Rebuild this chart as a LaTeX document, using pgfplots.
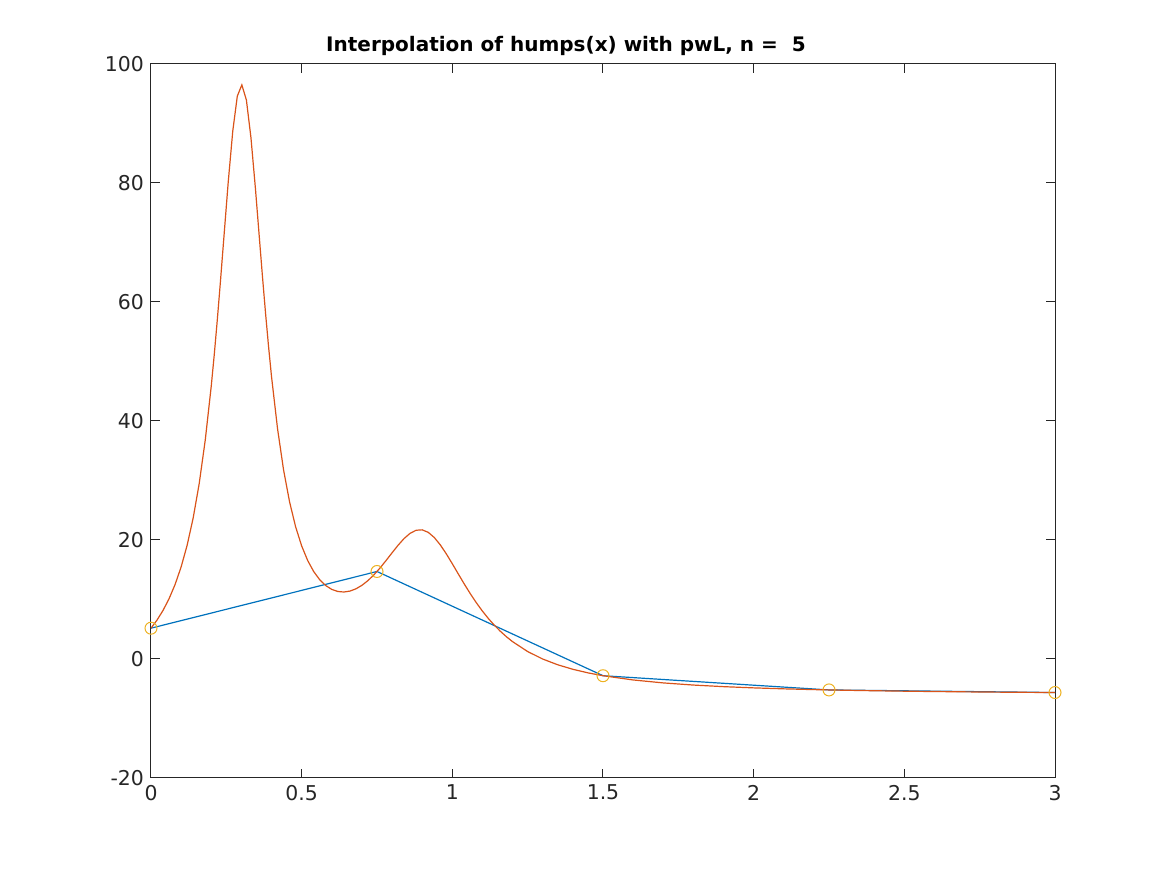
\documentclass[border=0pt]{standalone}
\usepackage{pgfplots}
\pgfplotsset{compat=1.18}
\usepackage{fontspec}
\setmainfont{DejaVu Sans}
\definecolor{mblue}{rgb}{0,0.447,0.741}
\definecolor{morange}{rgb}{0.850,0.325,0.098}
\definecolor{myellow}{rgb}{0.929,0.694,0.125}
\definecolor{axgray}{rgb}{0.15,0.15,0.15}
\begin{document}
\begin{tikzpicture}
\begin{axis}[
    scale only axis,
    width=452pt, height=357pt,
    xmin=0, xmax=3, ymin=-20, ymax=100,
    axis line style={axgray, line width=0.5pt},
    every tick/.style={axgray, line width=0.5pt},
    major tick length=4.5pt,
    tick align=inside,
    xtick={0,0.5,1,1.5,2,2.5,3},
    xticklabels={0,0.5,1,1.5,2,2.5,3},
    ytick={-20,0,20,40,60,80,100},
    yticklabels={-20,0,20,40,60,80,100},
    tick label style={font=\fontsize{10.2}{12}\selectfont, text=axgray},
    title={\textbf{Interpolation of humps(x) with pwL, n =\ \ 5}},
    title style={font=\fontsize{10}{12}\selectfont, text=black, yshift=-5.5pt, xshift=-18.5pt},
]
\coordinate (sw) at (rel axis cs:0,0);
\coordinate (ne) at (rel axis cs:1,1);
% piecewise linear interpolant
\addplot[mblue, line width=0.6pt] coordinates {
(0,5.176) (0.75,14.706) (1.5,-2.811) (2.25,-5.201) (3,-5.638)};
% humps(x)
\addplot[morange, line width=0.6pt] coordinates {
(0,5.176) (0.02,6.540) (0.04,8.169) (0.06,10.134) (0.08,12.527)
(0.10,15.471) (0.12,19.127) (0.14,23.709) (0.16,29.486) (0.18,36.775)
(0.20,45.887) (0.21,51.187) (0.22,56.966) (0.23,63.160) (0.24,69.632)
(0.2563,80.16) (0.2714,88.74) (0.2864,94.58) (0.3015,96.49) (0.3166,93.94)
(0.3317,87.62) (0.3467,78.99) (0.36,70.545) (0.37,64.230) (0.38,58.198)
(0.39,52.581) (0.40,47.448) (0.42,38.682) (0.44,31.758) (0.46,26.371)
(0.48,22.206) (0.50,19.000) (0.52,16.546) (0.54,14.689) (0.56,13.314)
(0.58,12.335) (0.60,11.692) (0.62,11.343) (0.64,11.256) (0.66,11.409)
(0.68,11.789) (0.70,12.382) (0.72,13.177) (0.74,14.156) (0.76,15.291)
(0.78,16.542) (0.80,17.846) (0.82,19.118) (0.84,20.251) (0.86,21.129)
(0.88,21.639) (0.90,21.703) (0.92,21.288) (0.94,20.422) (0.96,19.180)
(0.98,17.669) (1.00,16.000) (1.02,14.275) (1.04,12.572) (1.06,10.946)
(1.08,9.429) (1.10,8.038) (1.12,6.778) (1.14,5.643) (1.16,4.628)
(1.18,3.721) (1.20,2.912) (1.25,1.250) (1.30,-0.010) (1.35,-0.977)
(1.40,-1.732) (1.45,-2.330) (1.50,-2.811) (1.60,-3.525) (1.70,-4.022)
(1.80,-4.381) (1.90,-4.649) (2.00,-4.855) (2.10,-5.017) (2.20,-5.146)
(2.30,-5.251) (2.40,-5.337) (2.50,-5.409) (2.60,-5.470) (2.70,-5.522)
(2.80,-5.566) (2.90,-5.605) (3.00,-5.638)};
% nodes
\addplot[only marks, mark=o, mark size=3pt, myellow, mark options={line width=0.5pt}] coordinates {
(0,5.176) (0.75,14.706) (1.5,-2.811) (2.25,-5.201) (3,-5.638)};
\end{axis}
\path ([shift={(-75.5pt,-48.5pt)}]sw) rectangle ([shift={(56pt,32pt)}]ne);
\end{tikzpicture}
\end{document}
